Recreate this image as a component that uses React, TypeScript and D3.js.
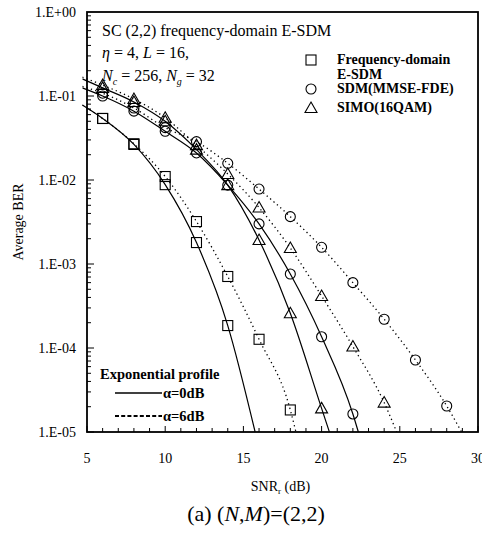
import React, { useEffect, useRef } from "react";
import * as d3 from "d3";

// marker positions (even SNR), BER values
const markerSnr = [6, 8, 10, 12, 14, 16, 18, 20, 22, 24, 26, 28];
const esdm0 = [5.4e-2, 2.65e-2, 8.8e-3, 1.8e-3, 1.85e-4];
const esdm6 = [5.4e-2, 2.7e-2, 1.1e-2, 3.2e-3, 7.1e-4, 1.27e-4, 1.83e-5];
const sdm0 = [1.0e-1, 6.6e-2, 3.8e-2, 2.1e-2, 8.7e-3, 3.0e-3, 7.6e-4, 1.36e-4, 1.64e-5];
const sdm6 = [1.08e-1, 7.2e-2, 4.2e-2, 2.86e-2, 1.58e-2, 7.8e-3, 3.66e-3, 1.58e-3, 6.0e-4, 2.2e-4, 7.2e-5, 2.04e-5];
const simo0 = [1.25e-1, 8.5e-2, 5.0e-2, 2.3e-2, 8.7e-3, 1.93e-3, 2.59e-4, 1.91e-5];
const simo6 = [1.35e-1, 9.2e-2, 5.5e-2, 2.6e-2, 1.18e-2, 4.7e-3, 1.55e-3, 4.16e-4, 1.04e-4, 2.24e-5];

// lines enter a bit left of the axis and leave through 1E-05
const lineStartSnr = 4.7;
const lineStartBer = [0.078, 0.078, 0.125, 0.13, 0.16, 0.168];
const lineEndSnr = [15.75, 18.36, 22.35, 28.95, 20.5, 24.8];

const curveBer = [esdm0, esdm6, sdm0, sdm6, simo0, simo6];
const curveMarker = ["square", "square", "circle", "circle", "triangle", "triangle"];
const curveAlpha = [0, 6, 0, 6, 0, 6];

const xTicks = [5, 10, 15, 20, 25, 30];
const yTicks = [1, 1e-1, 1e-2, 1e-3, 1e-4, 1e-5];
const yTickLabels = ["1.E+00", "1.E-01", "1.E-02", "1.E-03", "1.E-04", "1.E-05"];

const legendLabels = [["Frequency-domain", "E-SDM"], ["SDM(MMSE-FDE)"], ["SIMO(16QAM)"]];
const legendMarkers = ["square", "circle", "triangle"];
const alphaLabels = ["\u03b1=0dB", "\u03b1=6dB"];

const W = 482;
const H = 554;
const serif = "'Liberation Serif', 'Times New Roman', serif";

const drawMarker = (g, kind, cx, cy) => {
  if (kind === "square") {
    g.append("rect")
      .attr("x", cx - 5).attr("y", cy - 5)
      .attr("width", 10).attr("height", 10)
      .attr("fill", "none").attr("stroke", "#000").attr("stroke-width", 1.1);
  } else if (kind === "circle") {
    g.append("circle")
      .attr("cx", cx).attr("cy", cy).attr("r", 5)
      .attr("fill", "none").attr("stroke", "#000").attr("stroke-width", 1.1);
  } else {
    g.append("path")
      .attr("d", `M${cx},${cy - 6}L${cx + 6},${cy + 4.5}L${cx - 6},${cy + 4.5}Z`)
      .attr("fill", "none").attr("stroke", "#000").attr("stroke-width", 1.1);
  }
};

const BerChart = ({ marginTop = 12, marginRight = 4, marginBottom = 122, marginLeft = 87 }) => {
  const svgRef = useRef(null);

  useEffect(() => {
    const svg = d3.select(svgRef.current);
    svg.selectAll("*").remove();

    const x = d3.scaleLinear().domain([5, 30]).range([marginLeft, W - marginRight]);
    const y = d3.scaleLog().domain([1e-5, 1]).range([H - marginBottom, marginTop]);

    svg.append("defs").append("clipPath").attr("id", "plotclip")
      .append("rect")
      .attr("x", x(lineStartSnr)).attr("y", marginTop)
      .attr("width", W - marginRight - x(lineStartSnr))
      .attr("height", H - marginBottom - marginTop);

    // ticks, inward
    const ticks = svg.append("g").attr("stroke", "#000").attr("stroke-width", 1);
    d3.range(5, 31).forEach((v) => {
      const len = v % 5 === 0 ? 6 : 4;
      ticks.append("line")
        .attr("x1", x(v)).attr("x2", x(v))
        .attr("y1", H - marginBottom).attr("y2", H - marginBottom - len);
    });
    d3.range(-5, 0).forEach((e) => {
      d3.range(1, 10).forEach((m) => {
        const v = m * Math.pow(10, e);
        const len = m === 1 ? 7 : 4;
        ticks.append("line")
          .attr("x1", marginLeft).attr("x2", marginLeft + len)
          .attr("y1", y(v)).attr("y2", y(v));
      });
    });

    // frame
    svg.append("rect")
      .attr("x", marginLeft).attr("y", marginTop)
      .attr("width", W - marginRight - marginLeft)
      .attr("height", H - marginBottom - marginTop)
      .attr("fill", "none").attr("stroke", "#000").attr("stroke-width", 1.8);

    // tick labels
    svg.append("g").selectAll("text").data(yTicks).enter().append("text")
      .attr("x", marginLeft - 11).attr("y", (d) => y(d)).attr("dy", "0.35em")
      .attr("text-anchor", "end").attr("font-family", serif).attr("font-size", 14)
      .text((d, i) => yTickLabels[i]);
    svg.append("g").selectAll("text").data(xTicks).enter().append("text")
      .attr("x", (d) => x(d)).attr("y", H - marginBottom + 31)
      .attr("text-anchor", "middle").attr("font-family", serif).attr("font-size", 14)
      .text((d) => d);

    // curves
    const line = d3.line()
      .x((d) => x(d[0]))
      .y((d) => y(d[1]))
      .curve(d3.curveMonotoneX);

    const plot = svg.append("g").attr("clip-path", "url(#plotclip)");
    curveBer.forEach((ber, i) => {
      const pts = [[lineStartSnr, lineStartBer[i]]]
        .concat(ber.map((b, j) => [markerSnr[j], b]))
        .concat([[lineEndSnr[i], 1e-5]]);
      plot.append("path")
        .datum(pts)
        .attr("fill", "none")
        .attr("stroke", "#000")
        .attr("stroke-width", curveAlpha[i] === 0 ? 1.2 : 1.3)
        .attr("stroke-dasharray", curveAlpha[i] === 0 ? null : "1.3,3.2")
        .attr("d", line);
    });
    curveBer.forEach((ber, i) => {
      ber.forEach((b, j) => drawMarker(plot, curveMarker[i], x(markerSnr[j]), y(b)));
    });

    // annotation
    const note = svg.append("g").attr("font-family", serif).attr("font-size", 16);
    note.append("text").attr("x", 102).attr("y", 36).text("SC (2,2) frequency-domain E-SDM");
    const l2 = note.append("text").attr("x", 102).attr("y", 58);
    l2.append("tspan").attr("font-style", "italic").text("\u03b7");
    l2.append("tspan").text(" = 4, ");
    l2.append("tspan").attr("font-style", "italic").text("L");
    l2.append("tspan").text(" = 16,");
    const l3 = note.append("text").attr("x", 102).attr("y", 81);
    l3.append("tspan").attr("font-style", "italic").text("N");
    l3.append("tspan").attr("font-style", "italic").attr("font-size", 10).attr("dy", 4).text("c");
    l3.append("tspan").attr("dy", -4).text(" = 256, ");
    l3.append("tspan").attr("font-style", "italic").text("N");
    l3.append("tspan").attr("font-style", "italic").attr("font-size", 10).attr("dy", 4).text("g");
    l3.append("tspan").attr("dy", -4).text(" = 32");

    // marker legend
    const legY = [60, 89, 108];
    const leg = svg.append("g").attr("font-family", serif).attr("font-size", 14).attr("font-weight", "bold");
    legendLabels.forEach((lines, i) => {
      drawMarker(leg, legendMarkers[i], 311, legY[i]);
      lines.forEach((t, k) => {
        leg.append("text").attr("x", 337).attr("y", legY[i] + 4 + k * 15).text(t);
      });
    });

    // profile legend
    const prof = svg.append("g").attr("font-family", serif).attr("font-size", 14.5).attr("font-weight", "bold");
    prof.append("text").attr("x", 100).attr("y", 379).text("Exponential profile");
    alphaLabels.forEach((t, i) => {
      const ly = 393 + i * 23;
      prof.append("line")
        .attr("x1", 115).attr("x2", 162).attr("y1", ly).attr("y2", ly)
        .attr("stroke", "#000").attr("stroke-width", i === 0 ? 1.3 : 2)
        .attr("stroke-dasharray", i === 0 ? null : "4,2.2");
      prof.append("text").attr("x", 163).attr("y", ly + 5).text(t);
    });

    // axis titles
    const xt = svg.append("text")
      .attr("x", x(17.5) - 2).attr("y", H - marginBottom + 59)
      .attr("text-anchor", "middle").attr("font-family", serif).attr("font-size", 14);
    xt.append("tspan").text("SNR");
    xt.append("tspan").attr("font-size", 9).attr("dy", 3).text("r");
    xt.append("tspan").attr("dy", -3).text(" (dB)");

    svg.append("text")
      .attr("transform", `translate(23,${y(Math.pow(10, -2.5))}) rotate(-90)`)
      .attr("text-anchor", "middle").attr("font-family", serif).attr("font-size", 14)
      .text("Average BER");

    // caption
    const cap = svg.append("text")
      .attr("x", 256).attr("y", 521)
      .attr("text-anchor", "middle").attr("font-family", serif).attr("font-size", 22);
    cap.append("tspan").text("(a) (");
    cap.append("tspan").attr("font-style", "italic").text("N");
    cap.append("tspan").text(",");
    cap.append("tspan").attr("font-style", "italic").text("M");
    cap.append("tspan").text(")=(2,2)");
  }, [marginTop, marginRight, marginBottom, marginLeft]);

  return <svg ref={svgRef} width={W} height={H} style={{ position: "absolute", left: 0, top: 0, background: "#fff" }}></svg>;
};

export default function App() {
  return <BerChart />;
}
